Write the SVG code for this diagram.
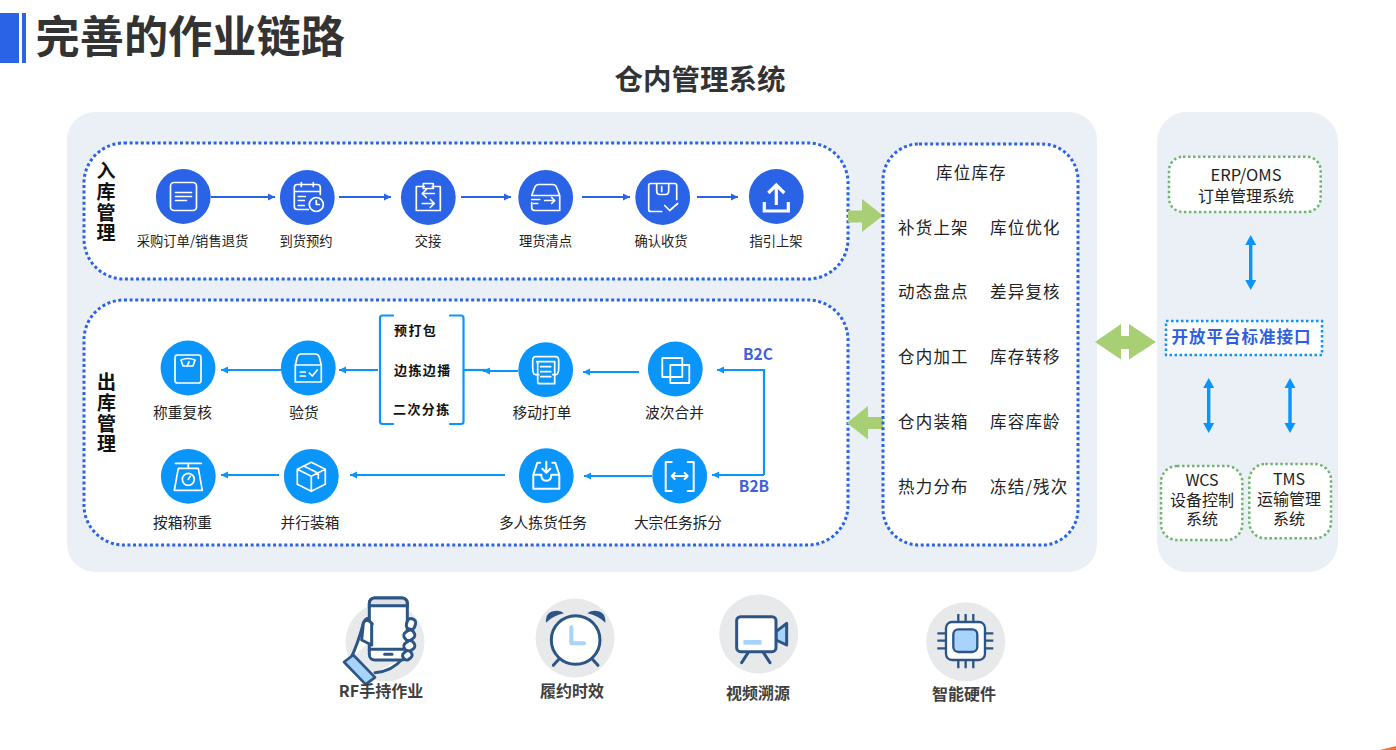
<svg xmlns="http://www.w3.org/2000/svg" width="1396" height="750" viewBox="0 0 1396 750">
<style>
text{font-family:"Noto Sans CJK SC","Noto Sans",sans-serif;fill:#222}
.lb{font-size:13.3px;text-anchor:middle}
.lo{font-size:14.7px;text-anchor:middle}
.side{font-size:19px;font-weight:700;fill:#111;writing-mode:vertical-rl;letter-spacing:1.700px}
.grp{font-size:13px;font-weight:700;letter-spacing:1.4px;fill:#111}
.st{font-size:16.500px;letter-spacing:1.200px}
.sys{font-size:16px;text-anchor:middle}
.bot{font-size:16px;font-weight:700;text-anchor:middle;fill:#404040}
.b2{font-size:15.500px;font-weight:700;fill:#3f62dc;text-anchor:middle}
.panel{fill:#ebeff6}
.dot{fill:#fff;stroke:#2a63e6;stroke-width:3;stroke-dasharray:3 2.6}
.gdot{fill:#fff;stroke:#6fb56f;stroke-width:2.5;stroke-dasharray:2.5 2.5}
.in{fill:#2a63e6}
.out{fill:#0a95fb}
.ic{fill:none;stroke:#fff;stroke-width:1.7;stroke-linecap:round;stroke-linejoin:round}
.ln{fill:none;stroke:#2a63e6;stroke-width:2.2}
.lo2{fill:none;stroke:#0a95fb;stroke-width:2.2}
.dk{fill:#fff;stroke:#2c5585;stroke-width:9;stroke-linejoin:round;stroke-linecap:round}
.lt{fill:#a8d3fb}
.gy{fill:#e8e9eb}
.db{fill:#0a95fb}
</style>
<defs>
<marker id="ah" markerUnits="userSpaceOnUse" markerWidth="8" markerHeight="8" refX="7" refY="4" orient="auto"><path d="M0 .5L7 4L0 7.5z" fill="#2a63e6"/></marker>
<marker id="ao" markerUnits="userSpaceOnUse" markerWidth="8" markerHeight="8" refX="7" refY="4" orient="auto"><path d="M0 .5L7 4L0 7.5z" fill="#0a95fb"/></marker>
<path id="dbl" d="M0 0L5.500 10H1.700V45H5.500L0 55L-5.500 45H-1.700V10H-5.500z"/>
</defs>

<g id="title">
<rect x="0" y="13" width="19" height="50" fill="#2a63e6"/>
<rect x="22" y="13" width="4" height="50" fill="#2a63e6"/>
<text x="35.500" y="53" font-size="44.200" font-weight="700" style="fill:#333">完善的作业链路</text>
</g>
<text id="subtitle" x="700" y="90" font-size="28.500" font-weight="700" text-anchor="middle" style="fill:#333">仓内管理系统</text>

<rect class="panel" x="67" y="112" width="1030" height="460" rx="28"/>
<rect class="panel" x="1157" y="112" width="181" height="460" rx="30"/>

<g id="inbound-box">
<rect class="dot" x="84" y="143" width="764" height="136" rx="40"/>
<text class="side" x="106" y="161.500">入库管理</text>
</g>
<g id="outbound-box">
<rect class="dot" x="84" y="300" width="764" height="245" rx="40"/>
<text class="side" x="106.500" y="372.500">出库管理</text>
</g>

<g id="connectors">
<path class="ln" marker-end="url(#ah)" d="M211 197H275"/>
<path class="ln" marker-end="url(#ah)" d="M339 197H391"/>
<path class="ln" marker-end="url(#ah)" d="M461 197H511"/>
<path class="ln" marker-end="url(#ah)" d="M582 197H630"/>
<path class="ln" marker-end="url(#ah)" d="M697 197H738"/>
<path class="lo2" marker-end="url(#ao)" d="M281 370H221"/>
<path class="lo2" marker-end="url(#ao)" d="M378 370H339"/>
<path class="lo2" marker-end="url(#ao)" d="M518 371H483"/>
<path class="lo2" d="M463 370H490"/>
<path class="lo2" marker-end="url(#ao)" d="M639 372H583"/>
<path class="lo2" marker-end="url(#ao)" d="M764 475V370H717"/>
<path class="lo2" marker-end="url(#ao)" d="M764 475H712"/>
<path class="lo2" marker-end="url(#ao)" d="M652 476H584"/>
<path class="lo2" marker-end="url(#ao)" d="M505 475H350"/>
<path class="lo2" marker-end="url(#ao)" d="M279 475H221"/>
<use href="#dbl" class="db" x="1250.700" y="235"/>
<use href="#dbl" class="db" x="1208.700" y="378"/>
<use href="#dbl" class="db" x="1290" y="378"/>
<path fill="#a9cf74" d="M848 210.500H862V199L883 215.500L862 232V222.500H848z"/>
<path fill="#a9cf74" d="M883 417H868V406L847 423L868 439.500V429H883z"/>
<path fill="#a9cf74" d="M1095 342L1121 324V336H1129V324L1156 342L1129 359.500V349H1121V359.500z"/>
</g>

<g id="bracket">
<path class="lo2" stroke-width="2.500" stroke-linecap="round" d="M393 315.500H382.500Q380 315.500 380 318V421.500Q380 424 382.500 424H393"/>
<path class="lo2" stroke-width="2.500" stroke-linecap="round" d="M450 315.500H461Q463.500 315.500 463.500 318V421.500Q463.500 424 461 424H450"/>
<text class="grp" x="394" y="335">预打包</text>
<text class="grp" x="394" y="375">边拣边播</text>
<text class="grp" x="393" y="414">二次分拣</text>
</g>

<g id="n-caigou"><circle class="in" cx="183.300" cy="196.500" r="27.400"/>
<g class="ic" transform="translate(183.500 196.500)"><rect x="-13" y="-14" width="26" height="28" rx="3.500"/><path d="M-8-4H8M-8 0H8M-8 4H3"/></g>
<text class="lb" x="192.500" y="246">采购订单/销售退货</text></g>

<g id="n-daohuo"><circle class="in" cx="307.300" cy="197.500" r="27.400"/>
<g class="ic" transform="translate(307.300 197.500)"><path d="M1 12H-10Q-13 12-13 9V-10Q-13-13-10-13H10Q13-13 13-10V-3M-13-6H13M-6-15V-11M6-15V-11M-9-1H-2M-9 3H-3M-9 8H-3"/><circle cx="9" cy="7" r="7"/><path d="M9 3V7H12"/></g>
<text class="lb" x="306" y="246">到货预约</text></g>

<g id="n-jiaojie"><circle class="in" cx="428.300" cy="197.500" r="27.400"/>
<g class="ic" transform="translate(428.300 197.500)"><path d="M-4-11H-12V13H12V-11H4M-5-14H5V-9H-5zM6-4H-6M-2-8L-6-4L-2 0M-6 6H6M2 2L6 6L2 10"/></g>
<text class="lb" x="428" y="246">交接</text></g>

<g id="n-lihuo"><circle class="in" cx="545.700" cy="197.500" r="27.400"/>
<g class="ic" transform="translate(545.700 197.500)"><path d="M-14-2L-11-10Q-10-13-7-13H7Q10-13 11-10L14-2V13H-11Q-14 13-14 10V5M-14-2H14M-14 2H-6M-12 6H-8M-1 3H9M6 0L9 3L6 6"/></g>
<text class="lb" x="545.500" y="246">理货清点</text></g>

<g id="n-queren"><circle class="in" cx="662.700" cy="197.500" r="27.400"/>
<g class="ic" transform="translate(662.700 197.500)"><path d="M-1 14H-12Q-14 14-14 12V-12Q-14-14-12-14H12Q14-14 14-12V2M-6-14V-7Q-6-3-3-3H3Q6-3 6-7V-14M-1-11V-6M2 8L7 13L15 6"/></g>
<text class="lb" x="661" y="246">确认收货</text></g>

<g id="n-zhiyin"><circle class="in" cx="776.300" cy="196.500" r="27.400"/>
<path d="M0 8V-11M-8-4L0-12L8-4M-12 5V14H12V5" transform="translate(776.300 197)" fill="none" stroke="#fff" stroke-width="3.200"/>
<text class="lb" x="776" y="246">指引上架</text></g>

<g id="n-chengzhong"><circle class="out" cx="188" cy="368" r="27.400"/>
<g class="ic" transform="translate(188 368)"><rect x="-13" y="-13" width="26" height="28" rx="2.500"/><path d="M-7-8Q0-11 7-8L5-2H-5zM-1-2L1-6"/></g>
<text class="lo" x="182.500" y="417.500">称重复核</text></g>

<g id="n-yanhuo"><circle class="out" cx="308.300" cy="368" r="27.400"/>
<g class="ic" transform="translate(308.300 368)"><path d="M-13-3L-11-11Q-10-14-7-14H7Q10-14 11-11L13-3V14H-13zM-13-3H13M-8 4H-3M-8 8H-3M1 5L4 8L9 2"/></g>
<text class="lo" x="304" y="417.500">验货</text></g>

<g id="n-yidong"><circle class="out" cx="545.700" cy="369.700" r="27.400"/>
<g class="ic" transform="translate(545.700 369.700)"><path d="M-7 5H-10Q-13 5-13-2V-9Q-13-13-10-13H10Q13-13 13-9V-2Q13 5 10 5H7M-9-8H9V14H-6Q-8 14-8 12V-8M-5-3H5M-5 2H5M-5 7H5"/></g>
<text class="lo" x="542" y="417.500">移动打单</text></g>

<g id="n-boci"><circle class="out" cx="675.300" cy="369" r="27.400"/>
<g class="ic" transform="translate(675.300 369)"><path d="M-13-11H7V8H-13zM-5-4H14V14H-5z" stroke-width="1.800"/></g>
<text class="lo" x="674.500" y="417.500">波次合并</text></g>

<g id="n-anxiang"><circle class="out" cx="188.300" cy="476.300" r="27.400"/>
<g class="ic" transform="translate(188.300 476.300)"><path d="M-13-13H13M0-13V-8M-10-8H10L14 14H-14z"/><circle cx="0" cy="3" r="6"/><path d="M0 3L2 0"/></g>
<text class="lo" x="182.500" y="527.500">按箱称重</text></g>

<g id="n-bingxing"><circle class="out" cx="311.300" cy="476.300" r="27.400"/>
<g class="ic" transform="translate(311.300 476.300)"><path d="M0-14L14-7V8L0 15L-14 8V-7zM-14-7L0 0L14-7M0 0V15M-7-10L7-3V2"/></g>
<text class="lo" x="310" y="527.500">并行装箱</text></g>

<g id="n-duoren"><circle class="out" cx="546.300" cy="475.700" r="27.400"/>
<g class="ic" transform="translate(546.300 475.700)" style="stroke-width:2"><path d="M-6-13H-9L-13-1V13H13V-1L9-13H6M-13-1H-5Q-5 5 0 5Q5 5 5-1H13M0-14V-3M-4-7L0-3L4-7"/></g>
<text class="lo" x="543" y="527.500">多人拣货任务</text></g>

<g id="n-dazong"><circle class="out" cx="679.700" cy="476" r="27.400"/>
<g class="ic" transform="translate(679.700 476)" style="stroke-width:2"><path d="M-8-14H-14V15H-8M8-14H14V15H8M-8 0H8M-5-3L-8 0L-5 3M5-3L8 0L5 3"/></g>
<text class="lo" x="678" y="527.500">大宗任务拆分</text></g>

<text class="b2" x="758" y="360">B2C</text>
<text class="b2" x="754" y="492">B2B</text>

<g id="kuwei">
<rect class="dot" x="883" y="144" width="195" height="401" rx="36"/>
<text class="st" x="936" y="179">库位库存</text>
<text class="st" x="898" y="234">补货上架</text><text class="st" x="990" y="234">库位优化</text>
<text class="st" x="898" y="298">动态盘点</text><text class="st" x="990" y="298">差异复核</text>
<text class="st" x="898" y="363">仓内加工</text><text class="st" x="990" y="363">库存转移</text>
<text class="st" x="898" y="428">仓内装箱</text><text class="st" x="990" y="428">库容库龄</text>
<text class="st" x="898" y="493">热力分布</text><text class="st" x="990" y="493">冻结/残次</text>
</g>

<g id="erp"><rect class="gdot" x="1169" y="156.700" width="151.700" height="55.300" rx="14"/>
<text class="sys"><tspan x="1246" y="181" style="font-size:16.500px">ERP/OMS</tspan><tspan x="1246" y="202">订单管理系统</tspan></text></g>
<g id="api"><rect x="1166" y="321" width="156" height="34" fill="#fff" stroke="#0a95fb" stroke-width="2.500" stroke-dasharray="2.500 2.500"/>
<text x="1171.500" y="343" font-size="16.500" font-weight="700" letter-spacing="1" style="fill:#2f5fe0">开放平台标准接口</text></g>
<g id="wcs"><rect class="gdot" x="1161" y="466" width="81.300" height="74" rx="16"/>
<text class="sys"><tspan x="1202" y="486">WCS</tspan><tspan x="1202" y="506">设备控制</tspan><tspan x="1202" y="525">系统</tspan></text></g>
<g id="tms"><rect class="gdot" x="1249.300" y="464" width="81.700" height="74.300" rx="16"/>
<text class="sys"><tspan x="1289" y="485">TMS</tspan><tspan x="1289" y="505">运输管理</tspan><tspan x="1289" y="525">系统</tspan></text></g>

<g id="rf">
<circle class="gy" cx="385" cy="642" r="39.500"/>
<g transform="translate(330 590) scale(.3333)">
<path class="dk" d="M62 205C80 170 92 130 100 100C108 78 127 80 127 102V150M135 248C170 245 200 228 218 205"/>
<rect x="118" y="24" width="114" height="186" rx="16" class="dk"/>
<path d="M118 42Q118 24 134 24H216Q232 24 232 42V47H118z" fill="#dfe3e8" stroke="#2c5585" stroke-width="9"/>
<path d="M118 178H232" class="dk"/><path d="M164 193H186" class="dk"/>
<path class="dk" d="M127 102C108 78 100 100 100 100L95 150L125 165V102"/>
<g class="dk" stroke-width="8"><rect x="230" y="86" width="26" height="32" rx="12" transform="rotate(15 243 102)"/><rect x="222" y="122" width="32" height="28" rx="12" transform="rotate(-35 238 136)"/><rect x="222" y="154" width="32" height="28" rx="12" transform="rotate(-35 238 168)"/><rect x="218" y="184" width="28" height="24" rx="10" transform="rotate(-40 232 196)"/></g>
<path d="M42 216L70 195L135 262L107 283z" class="lt" stroke="#2c5585" stroke-width="8" stroke-linejoin="round"/>
</g>
<text class="bot" x="381" y="697">RF手持作业</text>
</g>

<g id="clock">
<circle class="gy" cx="575" cy="638" r="39.500"/>
<g transform="translate(330 590) scale(.3333)">
<path fill="#2c5585" d="M648 98Q645 62 682 62Q695 62 702 70Q668 78 648 98zM826 98Q829 62 792 62Q779 62 772 70Q806 78 826 98z"/>
<path class="dk" d="M688 206L670 226M786 206L804 226"/>
<circle class="dk" cx="737" cy="150" r="73"/>
<path d="M724 112V160H762" fill="none" stroke="#a8d3fb" stroke-width="12" stroke-linecap="round" stroke-linejoin="round"/>
</g>
<text class="bot" x="572" y="697">履约时效</text>
</g>

<g id="video">
<circle class="gy" cx="758.700" cy="634" r="39.500"/>
<g transform="translate(700 590) scale(.3333)">
<path d="M228 125L260 100V165L228 150z" class="lt" stroke="#2c5585" stroke-width="9" stroke-linejoin="round"/>
<path class="dk" d="M145 187L125 218M190 187L210 218"/>
<rect class="dk" x="110" y="80" width="118" height="105" rx="12"/>
<rect class="lt" x="130" y="150" width="55" height="14" rx="2"/>
</g>
<text class="bot" x="758" y="699">视频溯源</text>
</g>

<g id="chip">
<circle class="gy" cx="965.700" cy="641.700" r="39.500"/>
<g transform="translate(700 590) scale(.3333)">
<path fill="none" stroke="#2c5585" stroke-width="7" d="M775 72V96M797 72V96M820 72V96M775 210V235M797 210V235M820 210V235M712 130H738M712 152H738M712 175H738M855 130H880M855 152H880M855 175H880"/>
<rect x="738" y="96" width="117" height="114" rx="18" fill="#fff" stroke="#2c5585" stroke-width="7"/>
<rect x="760" y="118" width="72" height="68" rx="15" class="lt" stroke="#2c5585" stroke-width="7"/>
</g>
<text class="bot" x="964" y="700">智能硬件</text>
</g>

<path d="M1380 750L1396 746V750z" fill="#f5703a"/>
</svg>
